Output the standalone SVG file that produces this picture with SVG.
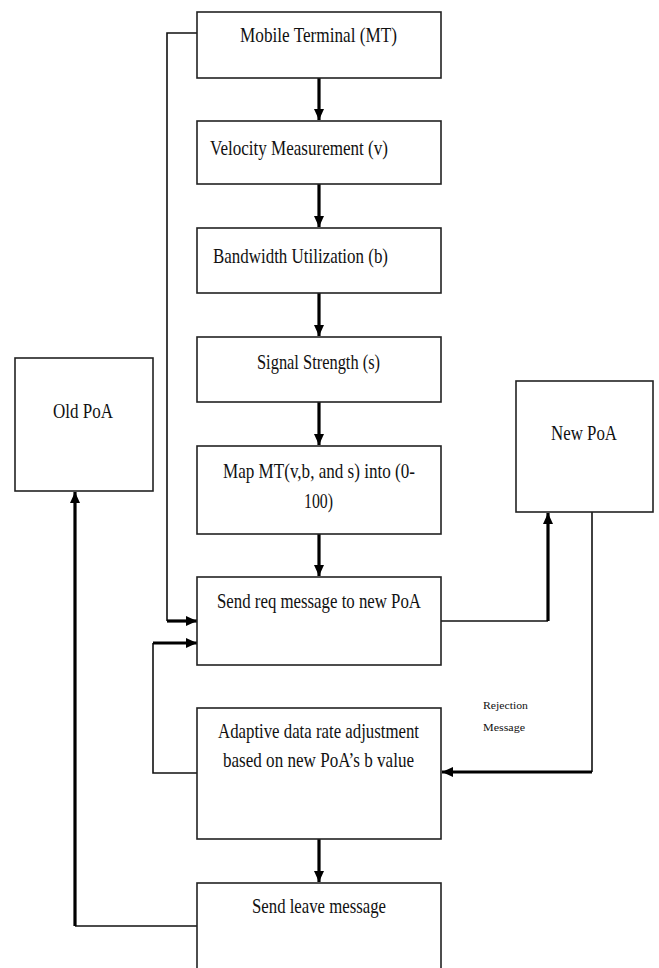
<svg xmlns="http://www.w3.org/2000/svg" width="659" height="968" viewBox="0 0 659 968">
<style>
.box{fill:#fff;stroke:#222;stroke-width:1.6}
.t{font-family:"Liberation Serif","Times New Roman",serif;font-size:21px;fill:#111}
.s{font-family:"Liberation Serif","Times New Roman",serif;font-size:11px;fill:#111}
.thin{fill:none;stroke:#111;stroke-width:1.6}
.thick{fill:none;stroke:#000;stroke-width:3.2}
</style>
<defs>
<marker id="ah" markerUnits="userSpaceOnUse" markerWidth="12" markerHeight="12" viewBox="0 0 12 12" refX="11" refY="6" orient="auto">
<path d="M0,1 L11,6 L0,11 Z" fill="#000"/>
</marker>
</defs>
<rect width="659" height="968" fill="#fff"/>
<g id="connectors">
<path class="thick" d="M319,78 V120" marker-end="url(#ah)"/>
<path class="thick" d="M319,184 V227" marker-end="url(#ah)"/>
<path class="thick" d="M319,293 V336" marker-end="url(#ah)"/>
<path class="thick" d="M319,402 V445" marker-end="url(#ah)"/>
<path class="thick" d="M319,534 V576" marker-end="url(#ah)"/>
<path class="thick" d="M319,839 V882" marker-end="url(#ah)"/>
<path class="thin" d="M197,33 H167 V621"/>
<path class="thick" d="M167,621 H197" marker-end="url(#ah)"/>
<path class="thin" d="M197,773 H153 V643"/>
<path class="thick" d="M153,643 H197" marker-end="url(#ah)"/>
<path class="thin" d="M441,621 H548"/>
<path class="thick" d="M548,621 V513" marker-end="url(#ah)"/>
<path class="thin" d="M592,512 V772"/>
<path class="thick" d="M592,772 H442" marker-end="url(#ah)"/>
<path class="thin" d="M197,926 H75"/>
<path class="thick" d="M75,926 V492" marker-end="url(#ah)"/>
</g>
<g id="mt"><rect class="box" x="197" y="12" width="244" height="66"/><text class="t" x="240" y="42" textLength="157" lengthAdjust="spacingAndGlyphs">Mobile Terminal (MT)</text></g>
<g id="velocity"><rect class="box" x="197" y="121" width="244" height="63"/><text class="t" x="210" y="155" textLength="178" lengthAdjust="spacingAndGlyphs">Velocity Measurement (v)</text></g>
<g id="bandwidth"><rect class="box" x="197" y="228" width="244" height="65"/><text class="t" x="213" y="263" textLength="175" lengthAdjust="spacingAndGlyphs">Bandwidth Utilization (b)</text></g>
<g id="signal"><rect class="box" x="197" y="337" width="244" height="65"/><text class="t" x="257" y="369" textLength="123" lengthAdjust="spacingAndGlyphs">Signal Strength (s)</text></g>
<g id="map"><rect class="box" x="197" y="446" width="244" height="88"/><text class="t" x="223" y="478" textLength="192" lengthAdjust="spacingAndGlyphs">Map MT(v,b, and s) into (0-</text><text class="t" x="304" y="508" textLength="29" lengthAdjust="spacingAndGlyphs">100)</text></g>
<g id="sendreq"><rect class="box" x="197" y="577" width="244" height="88"/><text class="t" x="217" y="608" textLength="204" lengthAdjust="spacingAndGlyphs">Send req message to new PoA</text></g>
<g id="adaptive"><rect class="box" x="197" y="708" width="244" height="131"/><text class="t" x="218" y="738" textLength="201" lengthAdjust="spacingAndGlyphs">Adaptive data rate adjustment</text><text class="t" x="223" y="767" textLength="191" lengthAdjust="spacingAndGlyphs">based on new PoA’s b value</text></g>
<g id="sendleave"><rect class="box" x="197" y="883" width="244" height="95"/><text class="t" x="252" y="913" textLength="134" lengthAdjust="spacingAndGlyphs">Send leave message</text></g>
<g id="oldpoa"><rect class="box" x="15" y="358" width="138" height="133"/><text class="t" x="53" y="418" textLength="60" lengthAdjust="spacingAndGlyphs">Old PoA</text></g>
<g id="newpoa"><rect class="box" x="516" y="381" width="137" height="131"/><text class="t" x="551" y="440" textLength="66" lengthAdjust="spacingAndGlyphs">New PoA</text></g>
<g id="rejection"><text class="s" x="483" y="709" textLength="45" lengthAdjust="spacingAndGlyphs">Rejection</text><text class="s" x="483" y="731" textLength="42" lengthAdjust="spacingAndGlyphs">Message</text></g>
</svg>
